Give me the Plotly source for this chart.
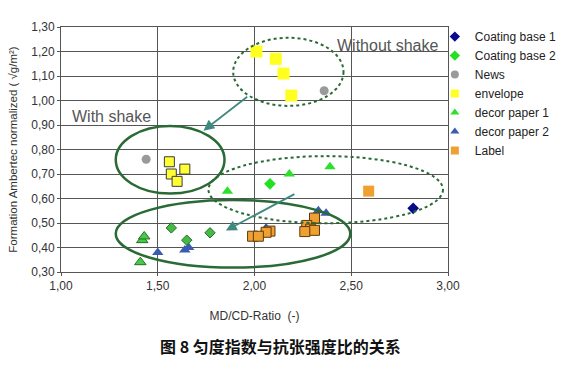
import plotly.graph_objects as go

# ---- data ----
cb1_x = [2.82]
cb1_y = [0.56]

cb2_x = [2.08]
cb2_y = [0.66]
cb2s_x = [1.57, 1.65, 1.77]
cb2s_y = [0.48, 0.43, 0.46]

news_x = [2.36, 1.44]
news_y = [1.04, 0.76]

env_x = [2.01, 2.11, 2.15, 2.19]
env_y = [1.20, 1.17, 1.11, 1.02]
envs_x = [1.56, 1.57, 1.60, 1.64]
envs_y = [0.75, 0.70, 0.67, 0.72]

dp1_x = [2.39, 2.18, 1.86]
dp1_y = [0.73, 0.70, 0.63]
dp1s_x = [1.42, 1.43, 1.41]
dp1s_y = [0.43, 0.445, 0.34]

dp2_x = [2.33, 2.37, 1.50, 1.64, 1.66, 2.06]
dp2_y = [0.55, 0.54, 0.38, 0.39, 0.40, 0.48]

lab_x = [2.59]
lab_y = [0.63]
labs_x = [2.31, 2.27, 2.29, 2.31, 2.26, 2.08, 2.06, 1.99, 2.02]
labs_y = [0.52, 0.49, 0.475, 0.47, 0.465, 0.467, 0.462, 0.446, 0.446]

series_names = ["Coating base 1", "Coating base 2", "News", "envelope",
                "decor paper 1", "decor paper 2", "Label"]
series_symbols = ["diamond", "diamond", "circle", "square",
                  "triangle-up", "triangle-up", "square"]
series_colors = ["#0a0a8c", "#22e022", "#9a9a9a", "#ffff22",
                 "#2ee02e", "#3a5cb0", "#f0a030"]

x_ticks = [1.0, 1.5, 2.0, 2.5, 3.0]
x_tick_labels = ["1,00", "1,50", "2,00", "2,50", "3,00"]
y_ticks = [0.3, 0.4, 0.5, 0.6, 0.7, 0.8, 0.9, 1.0, 1.1, 1.2, 1.3]
y_tick_labels = ["0,30", "0,40", "0,50", "0,60", "0,70", "0,80", "0,90",
                 "1,00", "1,10", "1,20", "1,30"]

# ellipses: (x0, x1, y0, y1, dash)
ellipses = [
    (1.89, 2.46, 0.978, 1.256, "dot"),
    (1.283, 1.845, 0.62, 0.896, "solid"),
    (1.283, 2.495, 0.318, 0.594, "solid"),
    (1.762, 2.974, 0.499, 0.773, "dot"),
]
# arrows: (tail_x, tail_y, head_x, head_y)
arrows = [
    (1.97, 1.02, 1.736, 0.877),
    (2.214, 0.621, 1.852, 0.469),
]

FONT = "Liberation Sans, Arial, sans-serif"
OUT = dict(color="#3a3a3a", width=1)

fig = go.Figure()

def add(x, y, name, symbol, color, size, line=None):
    fig.add_trace(go.Scatter(
        x=x, y=y, mode="markers", name=name, showlegend=False,
        legendgroup=name,
        marker=dict(symbol=symbol, color=color, size=size,
                    line=line or dict(width=0)),
    ))

add(cb1_x, cb1_y, "Coating base 1", "diamond", "#0a0a8c", 9)
add(cb2_x, cb2_y, "Coating base 2", "diamond", "#22e022", 9)
add(news_x, news_y, "News", "circle", "#9a9a9a", 9)
add(env_x, env_y, "envelope", "square", "#ffff22", 12)
add(dp1_x, dp1_y, "decor paper 1", "triangle-up", "#2ee02e", 10)
add(dp2_x, dp2_y, "decor paper 2", "triangle-up", "#3a5cb0", 10)
add(lab_x, lab_y, "Label", "square", "#f0a030", 11)
# "with shake" variants (outlined markers)
add(cb2s_x, cb2s_y, "Coating base 2", "diamond", "#44bb44",
    8, dict(color="#2a6a2a", width=1))
add(envs_x, envs_y, "envelope", "square", "#ffff33", 10, OUT)
add(dp1s_x, dp1s_y, "decor paper 1", "triangle-up", "#44cc44",
    10, dict(color="#2a6a2a", width=1))
add(labs_x, labs_y, "Label", "square", "#f0a030",
    10, dict(color="#5a3a10", width=1))

# legend entries (small symbols as in the reference legend)
for nm, sym, col in zip(series_names, series_symbols, series_colors):
    fig.add_trace(go.Scatter(
        x=[None], y=[None], mode="markers", name=nm, legendgroup=nm,
        marker=dict(symbol=sym, color=col, size=8, line=dict(width=0)),
    ))

for x0, x1, y0, y1, dash in ellipses:
    fig.add_shape(type="circle", xref="x", yref="y", x0=x0, x1=x1, y0=y0, y1=y1,
                  line=dict(color="#2a6a35", width=2.5 if dash == "solid" else 2,
                            dash=dash))

for tx, ty, hx, hy in arrows:
    fig.add_annotation(x=hx, y=hy, ax=tx, ay=ty, xref="x", yref="y",
                       axref="x", ayref="y", showarrow=True, text="",
                       arrowhead=2, arrowsize=1.2, arrowwidth=1.8,
                       arrowcolor="#3f8a80")

fig.add_annotation(x=2.687, y=1.226, xref="x", yref="y", text="Without shake",
                   showarrow=False, font=dict(family=FONT, size=16, color="#555555"))
fig.add_annotation(x=1.262, y=0.934, xref="x", yref="y", text="With shake",
                   showarrow=False, font=dict(family=FONT, size=16, color="#555555"))

fig.add_annotation(x=0.568, y=-0.36, xref="paper", yref="paper",
                   text="<b>图 8 匀度指数与抗张强度比的关系</b>", showarrow=False,
                   font=dict(family="Noto Sans CJK SC", size=16, color="#111111"))

fig.update_layout(
    width=563, height=382,
    margin=dict(l=61, r=115, t=27, b=110, autoexpand=False),
    paper_bgcolor="white", plot_bgcolor="white",
    font=dict(family=FONT, size=12, color="#333333"),
    legend=dict(x=0.966, y=1.02, xanchor="left", yanchor="top",
                font=dict(family=FONT, size=12, color="#222222"),
                bgcolor="rgba(0,0,0,0)", tracegroupgap=0,
                itemwidth=30),
)
fig.update_xaxes(range=[1.0, 3.0], tickvals=x_ticks, ticktext=x_tick_labels,
                 showgrid=True, gridcolor="#555555", gridwidth=1,
                 showline=True, linecolor="#555555", mirror=True,
                 zeroline=False, ticks="outside", ticklen=3, tickcolor="#555555",
                 title=dict(text="MD/CD-Ratio  (-)", font=dict(size=12, color="#333333"),
                            standoff=19))
fig.update_yaxes(range=[0.3, 1.3], tickvals=y_ticks, ticktext=y_tick_labels,
                 showgrid=True, gridcolor="#555555", gridwidth=1,
                 showline=True, linecolor="#555555", mirror=True,
                 zeroline=False, ticks="outside", ticklen=3, tickcolor="#555555",
                 title=dict(text="Formation Ambertec normalized ( √g/m²)",
                            font=dict(size=11.5, color="#333333"), standoff=11))

fig.write_html("out.html", config={"displayModeBar": False},
               post_script="document.body.style.margin='0';")
